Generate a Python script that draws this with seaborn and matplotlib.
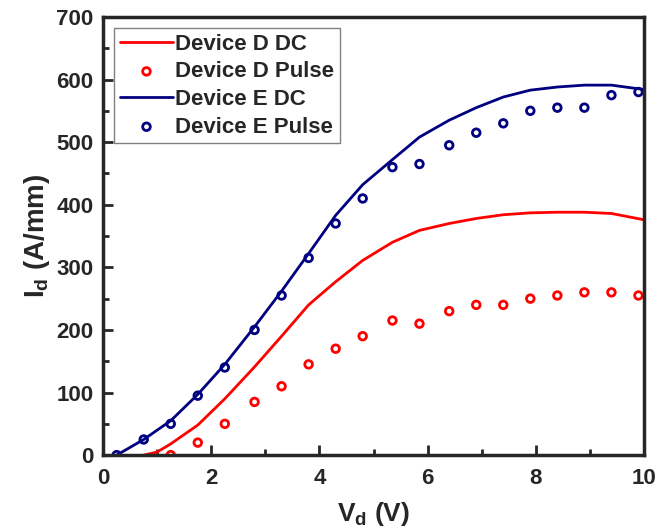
import pandas as pd
import seaborn as sns
import matplotlib
matplotlib.use("Agg")
from matplotlib import pyplot as plt
from matplotlib.ticker import MultipleLocator

# drain voltage (V) for the pulsed points
vd_pulse = [0.25, 0.75, 1.25, 1.75, 2.25, 2.8, 3.3, 3.8, 4.3, 4.8,
            5.35, 5.85, 6.4, 6.9, 7.4, 7.9, 8.4, 8.9, 9.4, 9.9]
id_e_pulse = [0, 25, 50, 95, 140, 200, 255, 315, 370, 410,
              460, 465, 495, 515, 530, 550, 555, 555, 575, 580]
vd_d_pulse = vd_pulse[2:]
id_d_pulse = [0, 20, 50, 85, 110, 145, 170, 190,
              215, 210, 230, 240, 240, 250, 255, 260, 260, 255]

# DC curves
vd_e_dc = [0.25, 0.75, 1.25, 1.75, 2.25, 2.8, 3.3, 3.8, 4.3, 4.8,
           5.35, 5.85, 6.4, 6.9, 7.4, 7.9, 8.4, 8.9, 9.4, 10.0]
id_e_dc = [0, 25, 55, 97, 145, 205, 262, 322, 383, 432,
           472, 508, 535, 555, 572, 583, 588, 591, 591, 584]
vd_d_dc = [0.75, 1.0, 1.25, 1.75, 2.25, 2.8, 3.3, 3.8, 4.3, 4.8,
           5.35, 5.85, 6.4, 6.9, 7.4, 7.9, 8.4, 8.9, 9.4, 10.0]
id_d_dc = [0, 5, 18, 48, 90, 141, 190, 240, 277, 311,
           340, 359, 370, 378, 384, 387, 388, 388, 386, 376]

red = "#FF0000"
navy = "#000080"

sns.set_style("ticks")
plt.rcParams["font.family"] = ["Liberation Sans", "DejaVu Sans"]
plt.rcParams["font.weight"] = "bold"
plt.rcParams["mathtext.fontset"] = "custom"
plt.rcParams["mathtext.rm"] = "Liberation Sans:bold"
plt.rcParams["mathtext.default"] = "rm"

fig = plt.figure(figsize=(6.57, 5.28), dpi=100)
ax = fig.add_axes([0.157, 0.138, 0.823, 0.830])

sns.lineplot(x=vd_d_dc, y=id_d_dc, color=red, lw=2, ax=ax, label="Device D DC")
sns.scatterplot(x=vd_d_pulse, y=id_d_pulse, marker="o", s=30, fc="none",
                ec=red, linewidth=2, ax=ax, label="Device D Pulse")
sns.lineplot(x=vd_e_dc, y=id_e_dc, color=navy, lw=2, ax=ax, label="Device E DC")
sns.scatterplot(x=vd_pulse, y=id_e_pulse, marker="o", s=30, fc="none",
                ec=navy, linewidth=2, ax=ax, label="Device E Pulse")

ax.set_xlim(0, 10)
ax.set_ylim(0, 700)
ax.xaxis.set_major_locator(MultipleLocator(2))
ax.xaxis.set_minor_locator(MultipleLocator(1))
ax.yaxis.set_major_locator(MultipleLocator(100))
ax.yaxis.set_minor_locator(MultipleLocator(50))
ax.tick_params(which="both", direction="in", width=2, labelsize=16,
               top=False, right=False)
ax.tick_params(which="major", length=7)
ax.tick_params(axis="x", which="major", pad=9)
ax.tick_params(axis="y", which="major", pad=7)
ax.tick_params(which="minor", length=4)
for sp in ax.spines.values():
    sp.set_linewidth(2.5)
    sp.set_visible(True)

ax.set_xlabel("V$_{d}$ (V)", fontsize=19, fontweight="bold", labelpad=8)
ax.set_ylabel("I$_{d}$ (A/mm)", fontsize=20, fontweight="bold", labelpad=3)

leg = ax.legend(loc="upper left", fontsize=16, frameon=True, fancybox=False,
                edgecolor="#808080", framealpha=1, handlelength=2.4,
                handletextpad=0.1, borderpad=0.25, labelspacing=0.3,
                borderaxespad=0.5)
leg.get_frame().set_linewidth(1)

fig.savefig("out.png", dpi=100)
